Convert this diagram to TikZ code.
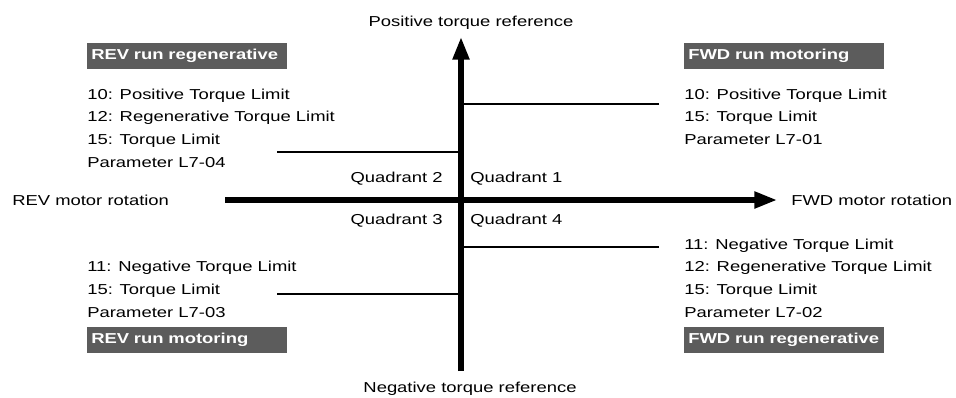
\documentclass[tikz,border=0pt]{standalone}
\usepackage{fontspec}
\setmainfont[FakeStretch=1.28]{Liberation Sans}
\usepackage{xcolor}
\usetikzlibrary{arrows.meta,positioning}
\definecolor{boxgray}{RGB}{92,92,92}

\begin{document}
\begin{tikzpicture}[
    x=0.75pt, y=-0.75pt,
    every node/.style={font=\fontsize{10.8pt}{16.9pt}\selectfont, inner sep=0pt},
    axis/.style={line width=3.9pt, -{Triangle[length=17pt, width=12pt]}},
    limitline/.style={line width=1.3pt},
    mode/.style={anchor=west, fill=boxgray, text=white, font=\fontsize{10.8pt}{13pt}\selectfont\bfseries,
        minimum width=150pt, minimum height=19.5pt, text width=144pt, inner xsep=3pt, align=left},
    params/.style={anchor=base west, align=left},
    plain/.style={anchor=base}
]
\useasboundingbox (0,0) rectangle (956,397);

% Axes
\coordinate (hleft) at (225,200);
\coordinate (hright) at (777,200);
\coordinate (vbot) at (461,371);
\coordinate (vtop) at (461,37);
\draw[axis] (hleft) -- (hright);
\draw[axis] (vbot) -- (vtop);

% Axis labels
\node[plain] (pos) at (471,26.5) {Positive torque reference};
\node[plain] (neg) at (470,392) {Negative torque reference};
\node[anchor=base west] (rev) at (12,205) {REV motor rotation};
\node[anchor=base west] (fwd) at (791,205) {FWD motor rotation};

% Quadrants
\node[anchor=base east] (q2) at (443,182.5) {Quadrant 2};
\node[anchor=base west] (q1) at (470,182.5) {Quadrant 1};
\node[anchor=base east] (q3) at (443,224.5) {Quadrant 3};
\node[anchor=base west] (q4) at (470,224.5) {Quadrant 4};

% Operating modes
\node[mode] (revregen) at (87,56) {\mbox{REV run regenerative}};
\node[mode] (fwdmotor) at (684,56) {\mbox{FWD run motoring}};
\node[mode] (revmotor) at (87,339.5) {\mbox{REV run motoring}};
\node[mode] (fwdregen) at (684,339.5) {\mbox{FWD run regenerative}};

% Torque limit settings (base = last line)
\node[params] (tlpar) at (87,167) {10: Positive Torque Limit\\12: Regenerative Torque Limit\\15: Torque Limit\\Parameter L7-04};
\node[params] (trpar) at (684,144.5) {10: Positive Torque Limit\\15: Torque Limit\\Parameter L7-01};
\node[params] (blpar) at (87,317) {11: Negative Torque Limit\\15: Torque Limit\\Parameter L7-03};
\node[params] (brpar) at (684,317) {11: Negative Torque Limit\\12: Regenerative Torque Limit\\15: Torque Limit\\Parameter L7-02};

% Leader lines to the torque axis
\coordinate (tlend) at (277,152);
\coordinate (trend) at (659,104);
\coordinate (blend) at (277,294);
\coordinate (brend) at (659,247);
\draw[limitline] (tlend) -- (tlend -| vtop);
\draw[limitline] (trend) -- (trend -| vtop);
\draw[limitline] (blend) -- (blend -| vtop);
\draw[limitline] (brend) -- (brend -| vtop);

\end{tikzpicture}
\end{document}
